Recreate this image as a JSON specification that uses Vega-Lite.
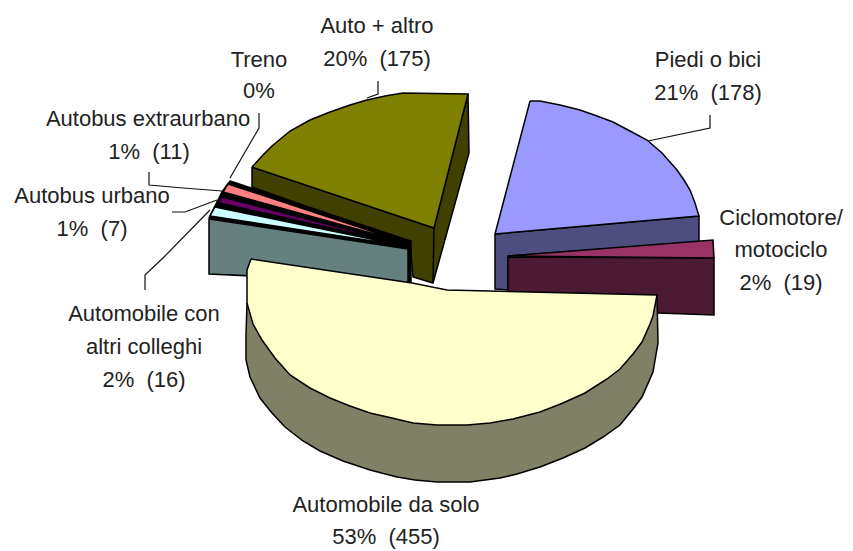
{"$schema":"https://vega.github.io/schema/vega-lite/v6.json","width":853,"height":551,"padding":0,"autosize":{"type":"none"},"background":"white","view":{"stroke":null},
"datasets":{
"slices":[
{"part":"a olive side","n":1,"x":252,"y":167},{"part":"a olive side","n":2,"x":252,"y":187},{"part":"a olive side","n":3,"x":410,"y":243},{"part":"a olive side","n":4,"x":413,"y":277},{"part":"a olive side","n":5,"x":433,"y":283},{"part":"a olive side","n":6,"x":469,"y":153},{"part":"a olive side","n":7,"x":468,"y":94},{"part":"a olive side","n":8,"x":434,"y":228},{"part":"a olive side","n":9,"x":252,"y":167},
{"part":"a2 olive edge","n":1,"x":434,"y":228},{"part":"a2 olive edge","n":2,"x":433,"y":283},
{"part":"b olive top","n":1,"x":252,"y":167},{"part":"b olive top","n":2,"x":262,"y":156},{"part":"b olive top","n":3,"x":272,"y":146},{"part":"b olive top","n":4,"x":290,"y":131},{"part":"b olive top","n":5,"x":310,"y":120},{"part":"b olive top","n":6,"x":330,"y":112},{"part":"b olive top","n":7,"x":350,"y":105},{"part":"b olive top","n":8,"x":367,"y":100},{"part":"b olive top","n":9,"x":385,"y":96},{"part":"b olive top","n":10,"x":403,"y":93},{"part":"b olive top","n":11,"x":468,"y":94},{"part":"b olive top","n":12,"x":434,"y":228},{"part":"b olive top","n":13,"x":252,"y":167},
{"part":"c backing","n":1,"x":230,"y":181},{"part":"c backing","n":2,"x":411,"y":241},{"part":"c backing","n":3,"x":411,"y":283},{"part":"c backing","n":4,"x":405,"y":283},{"part":"c backing","n":5,"x":405,"y":248},{"part":"c backing","n":6,"x":209,"y":218},{"part":"c backing","n":7,"x":222,"y":192},{"part":"c backing","n":8,"x":230,"y":181},
{"part":"d pink","n":1,"x":228,"y":184},{"part":"d pink","n":2,"x":407,"y":243},{"part":"d pink","n":3,"x":223,"y":192},{"part":"d pink","n":4,"x":228,"y":184},
{"part":"e purple","n":1,"x":222,"y":197},{"part":"e purple","n":2,"x":407,"y":245},{"part":"e purple","n":3,"x":219,"y":203},{"part":"e purple","n":4,"x":222,"y":197},
{"part":"f cyan","n":1,"x":215,"y":207},{"part":"f cyan","n":2,"x":405,"y":246},{"part":"f cyan","n":3,"x":210,"y":216},{"part":"f cyan","n":4,"x":215,"y":207},
{"part":"g teal side","n":1,"x":209,"y":219},{"part":"g teal side","n":2,"x":408,"y":249},{"part":"g teal side","n":3,"x":408,"y":283},{"part":"g teal side","n":4,"x":209,"y":274},{"part":"g teal side","n":5,"x":209,"y":219},
{"part":"h blue side","n":1,"x":495,"y":234},{"part":"h blue side","n":2,"x":699,"y":216},{"part":"h blue side","n":3,"x":699,"y":242},{"part":"h blue side","n":4,"x":508,"y":256},{"part":"h blue side","n":5,"x":508,"y":290},{"part":"h blue side","n":6,"x":495,"y":289},{"part":"h blue side","n":7,"x":495,"y":234},
{"part":"i blue top","n":1,"x":530,"y":101},{"part":"i blue top","n":2,"x":540,"y":101},{"part":"i blue top","n":3,"x":560,"y":105},{"part":"i blue top","n":4,"x":580,"y":110},{"part":"i blue top","n":5,"x":597,"y":116},{"part":"i blue top","n":6,"x":613,"y":122},{"part":"i blue top","n":7,"x":630,"y":131},{"part":"i blue top","n":8,"x":647,"y":140},{"part":"i blue top","n":9,"x":662,"y":153},{"part":"i blue top","n":10,"x":677,"y":170},{"part":"i blue top","n":11,"x":684,"y":180},{"part":"i blue top","n":12,"x":690,"y":190},{"part":"i blue top","n":13,"x":695,"y":203},{"part":"i blue top","n":14,"x":699,"y":216},{"part":"i blue top","n":15,"x":495,"y":234},{"part":"i blue top","n":16,"x":530,"y":101},
{"part":"j maroon side","n":1,"x":508,"y":257},{"part":"j maroon side","n":2,"x":714,"y":258},{"part":"j maroon side","n":3,"x":714,"y":315},{"part":"j maroon side","n":4,"x":658,"y":313},{"part":"j maroon side","n":5,"x":508,"y":310},{"part":"j maroon side","n":6,"x":508,"y":257},
{"part":"k maroon top","n":1,"x":508,"y":256},{"part":"k maroon top","n":2,"x":713,"y":240},{"part":"k maroon top","n":3,"x":714,"y":258},{"part":"k maroon top","n":4,"x":508,"y":256},
{"part":"l yellow side","n":1,"x":247,"y":303},{"part":"l yellow side","n":2,"x":246,"y":335},{"part":"l yellow side","n":3,"x":246,"y":360},{"part":"l yellow side","n":4,"x":250,"y":377},{"part":"l yellow side","n":5,"x":260,"y":398},{"part":"l yellow side","n":6,"x":272,"y":413},{"part":"l yellow side","n":7,"x":285,"y":427},{"part":"l yellow side","n":8,"x":303,"y":441},{"part":"l yellow side","n":9,"x":320,"y":451},{"part":"l yellow side","n":10,"x":343,"y":461},{"part":"l yellow side","n":11,"x":370,"y":470},{"part":"l yellow side","n":12,"x":397,"y":477},{"part":"l yellow side","n":13,"x":415,"y":480},{"part":"l yellow side","n":14,"x":437,"y":482},{"part":"l yellow side","n":15,"x":470,"y":482},{"part":"l yellow side","n":16,"x":500,"y":478},{"part":"l yellow side","n":17,"x":517,"y":474},{"part":"l yellow side","n":18,"x":540,"y":467},{"part":"l yellow side","n":19,"x":563,"y":458},{"part":"l yellow side","n":20,"x":585,"y":448},{"part":"l yellow side","n":21,"x":603,"y":437},{"part":"l yellow side","n":22,"x":620,"y":425},{"part":"l yellow side","n":23,"x":633,"y":409},{"part":"l yellow side","n":24,"x":642,"y":397},{"part":"l yellow side","n":25,"x":653,"y":372},{"part":"l yellow side","n":26,"x":658,"y":343},{"part":"l yellow side","n":27,"x":657,"y":295},{"part":"l yellow side","n":28,"x":437,"y":400},{"part":"l yellow side","n":29,"x":247,"y":303},
{"part":"m yellow top","n":1,"x":251,"y":259},{"part":"m yellow top","n":2,"x":412,"y":283},{"part":"m yellow top","n":3,"x":447,"y":290},{"part":"m yellow top","n":4,"x":657,"y":295},{"part":"m yellow top","n":5,"x":653,"y":316},{"part":"m yellow top","n":6,"x":650,"y":324},{"part":"m yellow top","n":7,"x":642,"y":342},{"part":"m yellow top","n":8,"x":633,"y":354},{"part":"m yellow top","n":9,"x":620,"y":369},{"part":"m yellow top","n":10,"x":607,"y":379},{"part":"m yellow top","n":11,"x":585,"y":393},{"part":"m yellow top","n":12,"x":563,"y":403},{"part":"m yellow top","n":13,"x":540,"y":412},{"part":"m yellow top","n":14,"x":513,"y":419},{"part":"m yellow top","n":15,"x":490,"y":423},{"part":"m yellow top","n":16,"x":467,"y":425},{"part":"m yellow top","n":17,"x":437,"y":425},{"part":"m yellow top","n":18,"x":413,"y":423},{"part":"m yellow top","n":19,"x":392,"y":418},{"part":"m yellow top","n":20,"x":370,"y":413},{"part":"m yellow top","n":21,"x":350,"y":406},{"part":"m yellow top","n":22,"x":330,"y":398},{"part":"m yellow top","n":23,"x":310,"y":388},{"part":"m yellow top","n":24,"x":290,"y":375},{"part":"m yellow top","n":25,"x":275,"y":358},{"part":"m yellow top","n":26,"x":262,"y":340},{"part":"m yellow top","n":27,"x":253,"y":324},{"part":"m yellow top","n":28,"x":247,"y":303},{"part":"m yellow top","n":29,"x":247,"y":270},{"part":"m yellow top","n":30,"x":251,"y":259}
],
"leaders":[
{"label":"Auto + altro","n":1,"x":378,"y":81},{"label":"Auto + altro","n":2,"x":378,"y":94},{"label":"Auto + altro","n":3,"x":367,"y":98},
{"label":"Piedi o bici","n":1,"x":710,"y":115},{"label":"Piedi o bici","n":2,"x":710,"y":128},{"label":"Piedi o bici","n":3,"x":648,"y":141},
{"label":"Treno","n":1,"x":259,"y":113},{"label":"Treno","n":2,"x":259,"y":128},{"label":"Treno","n":3,"x":230,"y":178},
{"label":"Autobus extraurbano","n":1,"x":149,"y":172},{"label":"Autobus extraurbano","n":2,"x":149,"y":185},{"label":"Autobus extraurbano","n":3,"x":183,"y":188},{"label":"Autobus extraurbano","n":4,"x":222,"y":191},
{"label":"Autobus urbano","n":1,"x":172,"y":212},{"label":"Autobus urbano","n":2,"x":185,"y":212},{"label":"Autobus urbano","n":3,"x":217,"y":200},
{"label":"Automobile con altri colleghi","n":1,"x":210,"y":210},{"label":"Automobile con altri colleghi","n":2,"x":163,"y":258},{"label":"Automobile con altri colleghi","n":3,"x":145,"y":275},{"label":"Automobile con altri colleghi","n":4,"x":145,"y":290}
],
"labels":[
{"text":"Auto + altro","x":377,"y":26},{"text":"20%\u00a0\u00a0(175)","x":377,"y":59},
{"text":"Piedi o bici","x":708,"y":60},{"text":"21%\u00a0\u00a0(178)","x":708,"y":93},
{"text":"Treno","x":259,"y":60},{"text":"0%","x":259,"y":91},
{"text":"Autobus extraurbano","x":148,"y":119},{"text":"1%\u00a0\u00a0(11)","x":149,"y":152},
{"text":"Autobus urbano","x":92,"y":196},{"text":"1%\u00a0\u00a0(7)","x":92,"y":229},
{"text":"Ciclomotore/","x":781,"y":218},{"text":"motociclo","x":781,"y":250},{"text":"2%\u00a0\u00a0(19)","x":781,"y":283},
{"text":"Automobile con","x":144,"y":314},{"text":"altri colleghi","x":144,"y":347},{"text":"2%\u00a0\u00a0(16)","x":144,"y":380},
{"text":"Automobile da solo","x":386,"y":505},{"text":"53%\u00a0\u00a0(455)","x":386,"y":537}
]},
"layer":[
{"data":{"name":"slices"},"mark":{"type":"line","stroke":"black","strokeWidth":1.5,"strokeJoin":"miter","clip":false},
"encoding":{"x":{"field":"x","type":"quantitative","scale":{"domain":[0,853],"nice":false,"zero":false},"axis":null},"y":{"field":"y","type":"quantitative","scale":{"domain":[551,0],"nice":false,"zero":false},"axis":null},"order":{"field":"n","type":"quantitative"},"detail":{"field":"part"},
"fill":{"field":"part","type":"nominal","legend":null,"scale":{"domain":["a olive side","a2 olive edge","b olive top","c backing","d pink","e purple","f cyan","g teal side","h blue side","i blue top","j maroon side","k maroon top","l yellow side","m yellow top"],"range":["#404000","#404000","#808000","#000000","#FF8080","#660066","#CCFFFF","#668080","#4D4D80","#9999FF","#4D1A33","#993366","#808066","#FFFFCC"]}}}},
{"data":{"name":"leaders"},"mark":{"type":"line","stroke":"#111","strokeWidth":1.2},
"encoding":{"x":{"field":"x","type":"quantitative","scale":{"domain":[0,853],"nice":false,"zero":false},"axis":null},"y":{"field":"y","type":"quantitative","scale":{"domain":[551,0],"nice":false,"zero":false},"axis":null},"order":{"field":"n","type":"quantitative"},"detail":{"field":"label"}}},
{"data":{"name":"labels"},"mark":{"type":"text","font":"Liberation Sans","fontSize":22,"fill":"#222","align":"center","baseline":"middle"},
"encoding":{"x":{"field":"x","type":"quantitative","scale":{"domain":[0,853],"nice":false,"zero":false},"axis":null},"y":{"field":"y","type":"quantitative","scale":{"domain":[551,0],"nice":false,"zero":false},"axis":null},"text":{"field":"text"}}}
]}
